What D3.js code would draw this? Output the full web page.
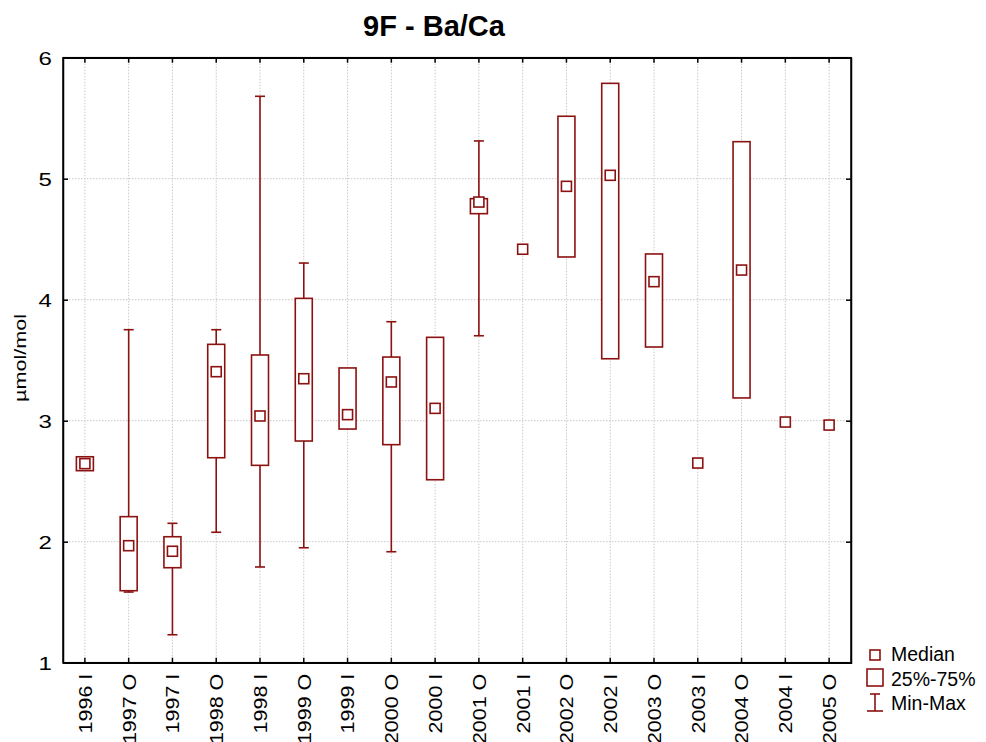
<!DOCTYPE html>
<html lang="en">
  <head>
    <meta charset="UTF-8" />
    <title>9F - Ba/Ca</title>
    <style>
      body { margin: 0; background: #fff; }
      text { font-family: "Liberation Sans", Arial, sans-serif; }
      .grid line { stroke: #c8c8c8; stroke-dasharray: 1.5 1.5; stroke-width: 1; }
    </style>
  </head>
  <body>
    <svg width="986" height="742"></svg>
    <script src="https://cdnjs.cloudflare.com/ajax/libs/d3/7.8.5/d3.min.js"></script>
    <script>
      // categories and box statistics (null = not drawn)
      const categories = ["1996 I", "1997 O", "1997 I", "1998 O", "1998 I", "1999 O", "1999 I", "2000 O", "2000 I",
        "2001 O", "2001 I", "2002 O", "2002 I", "2003 O", "2003 I", "2004 O", "2004 I", "2005 O"];
      const medians = [2.645, 1.967, 1.921, 3.405, 3.039, 3.347, 3.05, 3.32, 3.102,
        4.807, 4.417, 4.937, 5.028, 4.149, 2.65, 4.245, 2.989, 2.964];
      const q1 = [2.587, 1.595, 1.785, 2.694, 2.631, 2.832, 2.931, 2.802, 2.512,
        4.711, null, 4.353, 3.512, 3.609, null, 3.188, null, null];
      const q3 = [2.702, 2.207, 2.041, 3.631, 3.543, 4.011, 3.436, 3.526, 3.689,
        4.835, null, 5.516, 5.788, 4.378, null, 5.306, null, null];
      const mins = [2.587, 1.584, 1.231, 2.078, 1.791, 1.95, 2.931, 1.917, 2.512,
        3.702, null, 4.353, 3.512, 3.609, null, 3.188, null, null];
      const maxs = [2.702, 3.752, 2.152, 3.752, 5.681, 4.303, 3.436, 3.818, 3.689,
        5.312, null, 5.516, 5.788, 4.378, null, 5.306, null, null];
      const yTicks = [1, 2, 3, 4, 5, 6];

      const color = "#8c1111";
      const svg = d3.select("svg");
      const mLeft = 63, mRight = 851, mTop = 57.7, mBottom = 662.7;

      const x = d3.scaleBand().domain(categories).range([mLeft, mRight]);
      const y = d3.scaleLinear().domain([1, 6]).range([mBottom, mTop]);
      const cx = (c) => x(c) + x.bandwidth() / 2;

      // grid
      const grid = svg.append("g").attr("class", "grid");
      grid.selectAll(".vg").data(categories).enter().append("line")
        .attr("x1", cx).attr("x2", cx).attr("y1", mTop).attr("y2", mBottom);
      grid.selectAll(".hg").data(yTicks.slice(1, -1)).enter().append("line")
        .attr("x1", mLeft).attr("x2", mRight).attr("y1", y).attr("y2", y);

      // axes (ticks pointing inward)
      const tl = 5;
      const axL = svg.append("g").attr("transform", `translate(${mLeft},0)`)
        .call(d3.axisLeft(y).tickValues(yTicks).tickFormat(d3.format("d")).tickSize(-tl));
      const axR = svg.append("g").attr("transform", `translate(${mRight},0)`)
        .call(d3.axisRight(y).tickValues(yTicks).tickSize(-tl).tickFormat(""));
      const axB = svg.append("g").attr("transform", `translate(0,${mBottom})`)
        .call(d3.axisBottom(x).tickSize(-tl).tickSizeOuter(0));
      const axT = svg.append("g").attr("transform", `translate(0,${mTop})`)
        .call(d3.axisTop(x).tickSize(-tl).tickSizeOuter(0).tickFormat(""));
      [axL, axR, axB, axT].forEach((a) => {
        a.selectAll("path, line").attr("stroke", "#000").attr("stroke-width", 1.5);
        a.selectAll("text").attr("fill", "#000")
          .style("font-family", "'Liberation Sans', Arial, sans-serif");
      });
      svg.append("rect").attr("x", mLeft).attr("y", mTop)
        .attr("width", mRight - mLeft).attr("height", mBottom - mTop)
        .attr("fill", "none").attr("stroke", "#000").attr("stroke-width", 1.5);
      // the original lettering is wide, so stretch it along the text
      axL.selectAll("text").style("font-size", "18.5px")
        .attr("x", 0).attr("dy", "0.36em")
        .attr("transform", "translate(-11,0) scale(1.3,1)");
      axB.selectAll("text").style("font-size", "19px")
        .attr("transform", "translate(0,11) rotate(-90) scale(1.13,1)")
        .attr("text-anchor", "end")
        .attr("x", 0).attr("y", 0).attr("dy", "0.36em");

      // boxes
      const idx = d3.range(categories.length);
      const plot = svg.append("g").attr("fill", "none").attr("stroke", color).attr("stroke-width", 1.6);
      const bw = 17, cap = 10, ms = 10;

      idx.filter((i) => maxs[i] != null).forEach((i) => {
        const c = cx(categories[i]);
        if (maxs[i] > q3[i]) {
          plot.append("line").attr("x1", c).attr("x2", c).attr("y1", y(maxs[i])).attr("y2", y(q3[i]));
          plot.append("line").attr("x1", c - cap / 2).attr("x2", c + cap / 2).attr("y1", y(maxs[i])).attr("y2", y(maxs[i]));
        }
        if (mins[i] < q1[i]) {
          plot.append("line").attr("x1", c).attr("x2", c).attr("y1", y(q1[i])).attr("y2", y(mins[i]));
          plot.append("line").attr("x1", c - cap / 2).attr("x2", c + cap / 2).attr("y1", y(mins[i])).attr("y2", y(mins[i]));
        }
        plot.append("rect").attr("x", c - bw / 2).attr("y", y(q3[i]))
          .attr("width", bw).attr("height", y(q1[i]) - y(q3[i])).attr("fill", "#fff");
      });

      plot.selectAll(".med").data(idx).enter().append("rect")
        .attr("x", (i) => cx(categories[i]) - ms / 2)
        .attr("y", (i) => y(medians[i]) - ms / 2)
        .attr("width", ms).attr("height", ms).attr("fill", "#fff");

      // title and y label
      svg.append("text").attr("x", 434).attr("y", 36).attr("text-anchor", "middle")
        .style("font-size", "29px").style("font-weight", "bold").text("9F - Ba/Ca");
      svg.append("text").attr("transform", "translate(25.5,358) rotate(-90) scale(1.35,1)")
        .attr("text-anchor", "middle").style("font-size", "16px").text("µmol/mol");

      // legend
      const lg = svg.append("g");
      const ls = lg.append("g").attr("fill", "none").attr("stroke", color).attr("stroke-width", 1.6);
      ls.append("rect").attr("x", 870).attr("y", 650).attr("width", 10).attr("height", 10);
      ls.append("rect").attr("x", 867).attr("y", 669).attr("width", 16).attr("height", 17);
      ls.append("line").attr("x1", 875).attr("x2", 875).attr("y1", 694).attr("y2", 711);
      ls.append("line").attr("x1", 870).attr("x2", 880).attr("y1", 694).attr("y2", 694);
      ls.append("line").attr("x1", 867).attr("x2", 883).attr("y1", 711).attr("y2", 711);
      const legendLabels = ["Median", "25%-75%", "Min-Max"];
      lg.selectAll(".lt").data(legendLabels).enter().append("text")
        .attr("x", 891).attr("y", (d, i) => 661 + i * 24.5)
        .style("font-size", "19.5px").text((d) => d);
    </script>
  </body>
</html>
